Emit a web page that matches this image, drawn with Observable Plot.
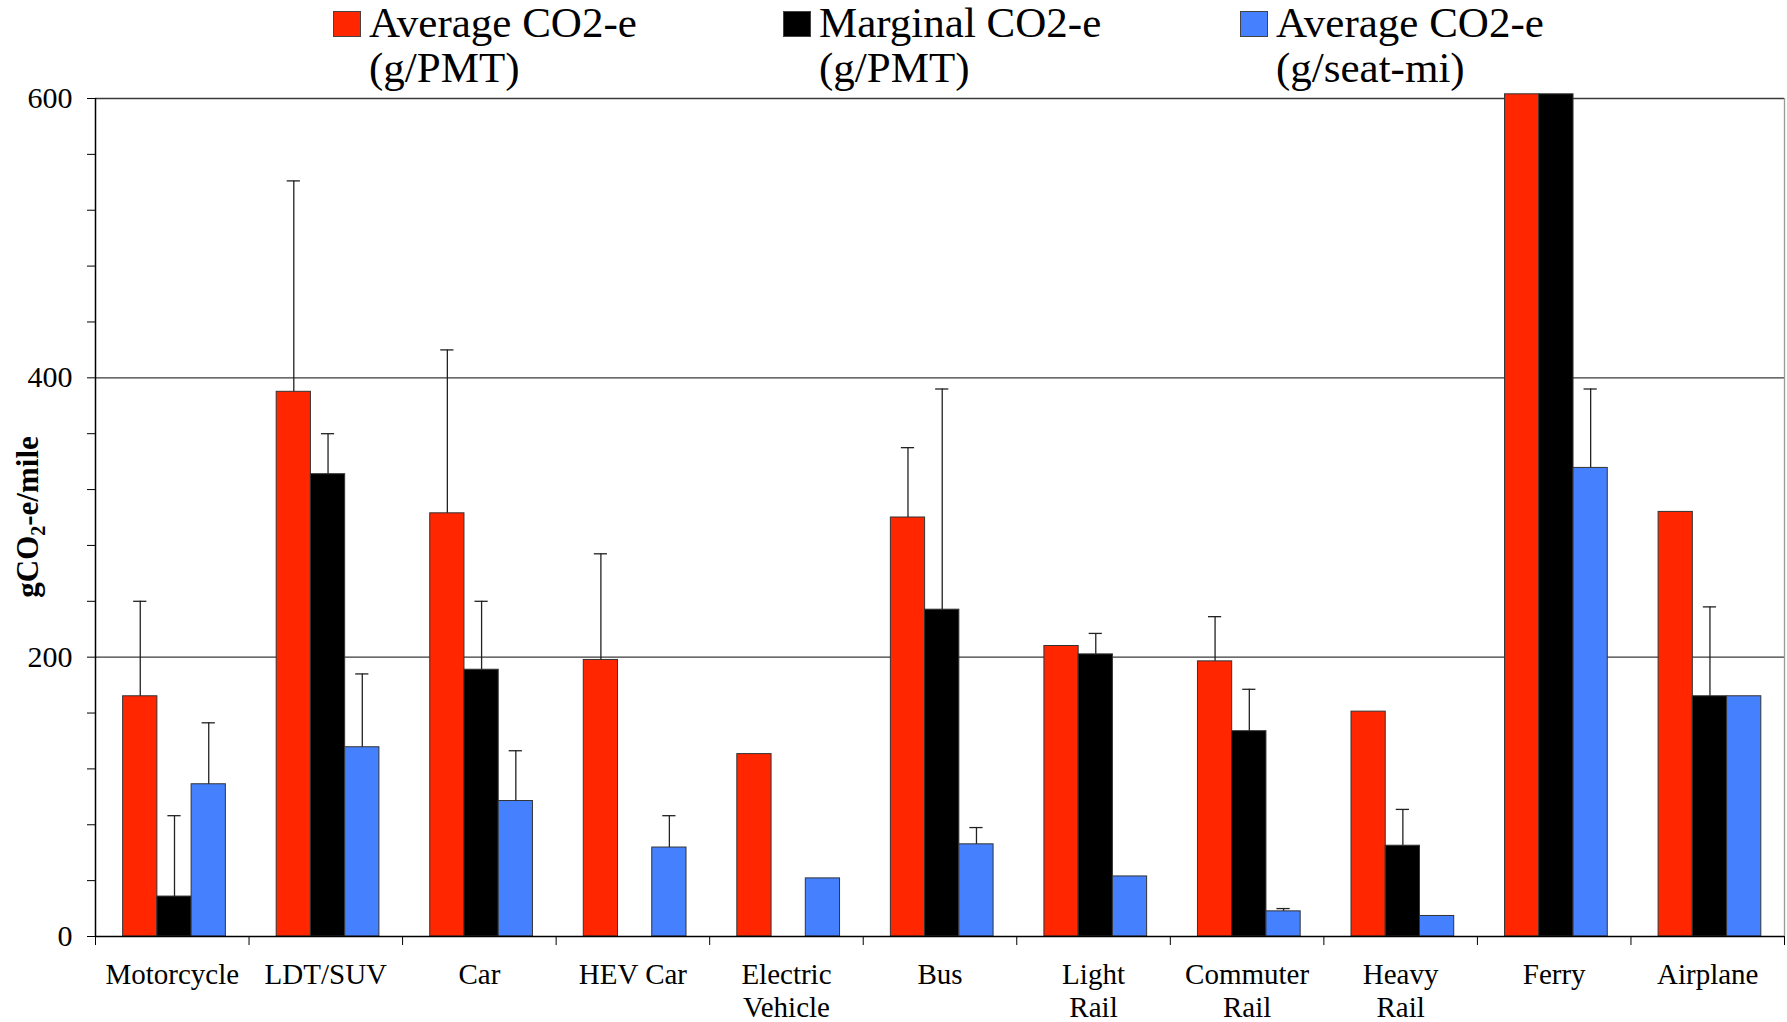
<!DOCTYPE html>
<html><head><meta charset="utf-8">
<script src="https://cdn.jsdelivr.net/npm/d3@7"></script>
<script src="https://cdn.jsdelivr.net/npm/@observablehq/plot@0.6"></script>
<style>
body{margin:0;background:#fff;width:1787px;height:1022px;overflow:hidden;font-family:"Liberation Serif","DejaVu Serif",serif;position:relative;}
#legend{position:absolute;left:0;top:0;width:1787px;height:84px;z-index:2;}
.item{position:absolute;top:0;display:flex;align-items:flex-start;}
.sw{width:28px;height:26px;box-sizing:border-box;margin-top:11px;margin-right:8px;border:1.5px solid #444;}
.lab{font-family:"Liberation Serif","DejaVu Serif",serif;font-size:43px;line-height:45px;color:#000;white-space:nowrap;}
#chart svg{display:block;}
</style></head><body>
<div id="chart"></div>
<div id="legend"></div>
<script>
const categories = ["Motorcycle", "LDT/SUV", "Car", "HEV Car", "Electric\nVehicle", "Bus", "Light\nRail", "Commuter\nRail", "Heavy\nRail", "Ferry", "Airplane"];
const seriesNames = ["Average CO2-e (g/PMT)", "Marginal CO2-e (g/PMT)", "Average CO2-e (g/seat-mi)"];
const legendLines = [["Average CO2-e", "(g/PMT)"], ["Marginal CO2-e", "(g/PMT)"], ["Average CO2-e", "(g/seat-mi)"]];
const seriesColors = ["#FF2600", "#000000", "#4580FF"];
// values (g CO2-e / mile) and upper error-bar ends
const avgPMT     = [172, 390, 303, 198, 130.6, 300, 208, 197, 161, 603, 304];
const avgPMTErr  = [240, 541, 420, 274, null, 350, null, 229, null, null, null];
const margPMT    = [28.6, 331, 191, null, null, 234, 202, 147, 65, 603, 172];
const margPMTErr = [86.5, 360, 240, null, null, 392, 217, 177, 91, null, 236];
const avgSeat    = [109, 135.5, 97, 63.7, 41.6, 66, 43, 18, 14.7, 335.5, 172];
const avgSeatErr = [153, 188, 133, 86.5, null, 78, null, 20, null, 392, null];
const yTicks = [0, 40, 80, 120, 160, 200, 240, 280, 320, 360, 400, 440, 480, 520, 560, 600];
const yLabelTicks = [0, 200, 400, 600];

// layout constants (fractions of a category slot)
const groupOffset = 0.18, barWidth = 0.223, capHalf = 0.043;

const valueSets = [avgPMT, margPMT, avgSeat];
const errSets = [avgPMTErr, margPMTErr, avgSeatErr];
const rows = [];
categories.forEach((c, i) => {
  valueSets.forEach((vals, s) => {
    if (vals[i] == null) return;
    const x1 = i + groupOffset + s * barWidth;
    rows.push({cat: c, i, series: seriesNames[s], value: vals[i], upper: errSets[s][i], x1, x2: x1 + barWidth, xc: x1 + barWidth / 2});
  });
});
const errRows = rows.filter(d => d.upper != null);

// legend
const leg = d3.select("#legend");
const legLeft = [333, 783, 1240];
seriesNames.forEach((n, s) => {
  const it = leg.append("div").attr("class", "item").style("left", legLeft[s] + "px");
  it.append("div").attr("class", "sw").style("background", seriesColors[s]);
  it.append("div").attr("class", "lab").html(legendLines[s].join("<br>"));
});

const H = 1022, MT = 98, MB = 86;
const chart = Plot.plot({
  width: 1787, height: H,
  marginTop: MT, marginBottom: MB, marginLeft: 95, marginRight: 3,
  x: {domain: [0, 11], axis: null},
  y: {domain: [0, 600], axis: null},
  color: {domain: seriesNames, range: seriesColors},
  style: {fontFamily: "'Liberation Serif', 'DejaVu Serif', serif", background: "white", color: "black", overflow: "visible"},
  marks: [
    Plot.ruleY(yLabelTicks.filter(d => d > 0), {stroke: "#3a3a3a", strokeWidth: 1.3}),
    Plot.ruleX([11], {stroke: "#999", strokeWidth: 1.3}),
    Plot.rectY(rows, {x1: "x1", x2: "x2", y1: 0, y2: "value", fill: "series", stroke: "#333", strokeWidth: 1}),
    Plot.ruleX(errRows, {x: "xc", y1: "value", y2: "upper", stroke: "#222", strokeWidth: 1.3}),
    Plot.ruleY(errRows, {y: "upper", x1: d => d.xc - capHalf, x2: d => d.xc + capHalf, stroke: "#222", strokeWidth: 1.3}),
    Plot.axisY({ticks: yTicks, tickFormat: d => (d % 200 === 0 ? String(d) : ""), tickSize: 8, tickPadding: 15, fontSize: 30, label: null, stroke: "#000"}),
    Plot.axisX({ticks: d3.range(12), tickFormat: () => "", tickSize: 9, label: null, stroke: "#000"}),
    Plot.ruleY([0], {stroke: "#000", strokeWidth: 1.5}),
    Plot.ruleX([0], {stroke: "#000", strokeWidth: 1.5}),
    Plot.text(categories, {x: (d, i) => i + 0.5, frameAnchor: "bottom", lineAnchor: "top", dy: 24, text: d => d, fontSize: 29, lineHeight: 1.13, fill: "#000"})
  ]
});
document.getElementById("chart").appendChild(chart);

// rotated y-axis title with subscript
const t = d3.select(chart).append("text")
  .attr("transform", `translate(38, ${(MT + H - MB) / 2}) rotate(-90)`)
  .attr("text-anchor", "middle")
  .attr("font-family", "'Liberation Serif', 'DejaVu Serif', serif")
  .attr("font-weight", "bold")
  .attr("font-size", 31)
  .attr("fill", "#000");
t.append("tspan").text("gCO");
t.append("tspan").text("2").attr("font-size", 20).attr("dy", 7);
t.append("tspan").text("-e/mile").attr("dy", -7);
</script>
</body></html>
